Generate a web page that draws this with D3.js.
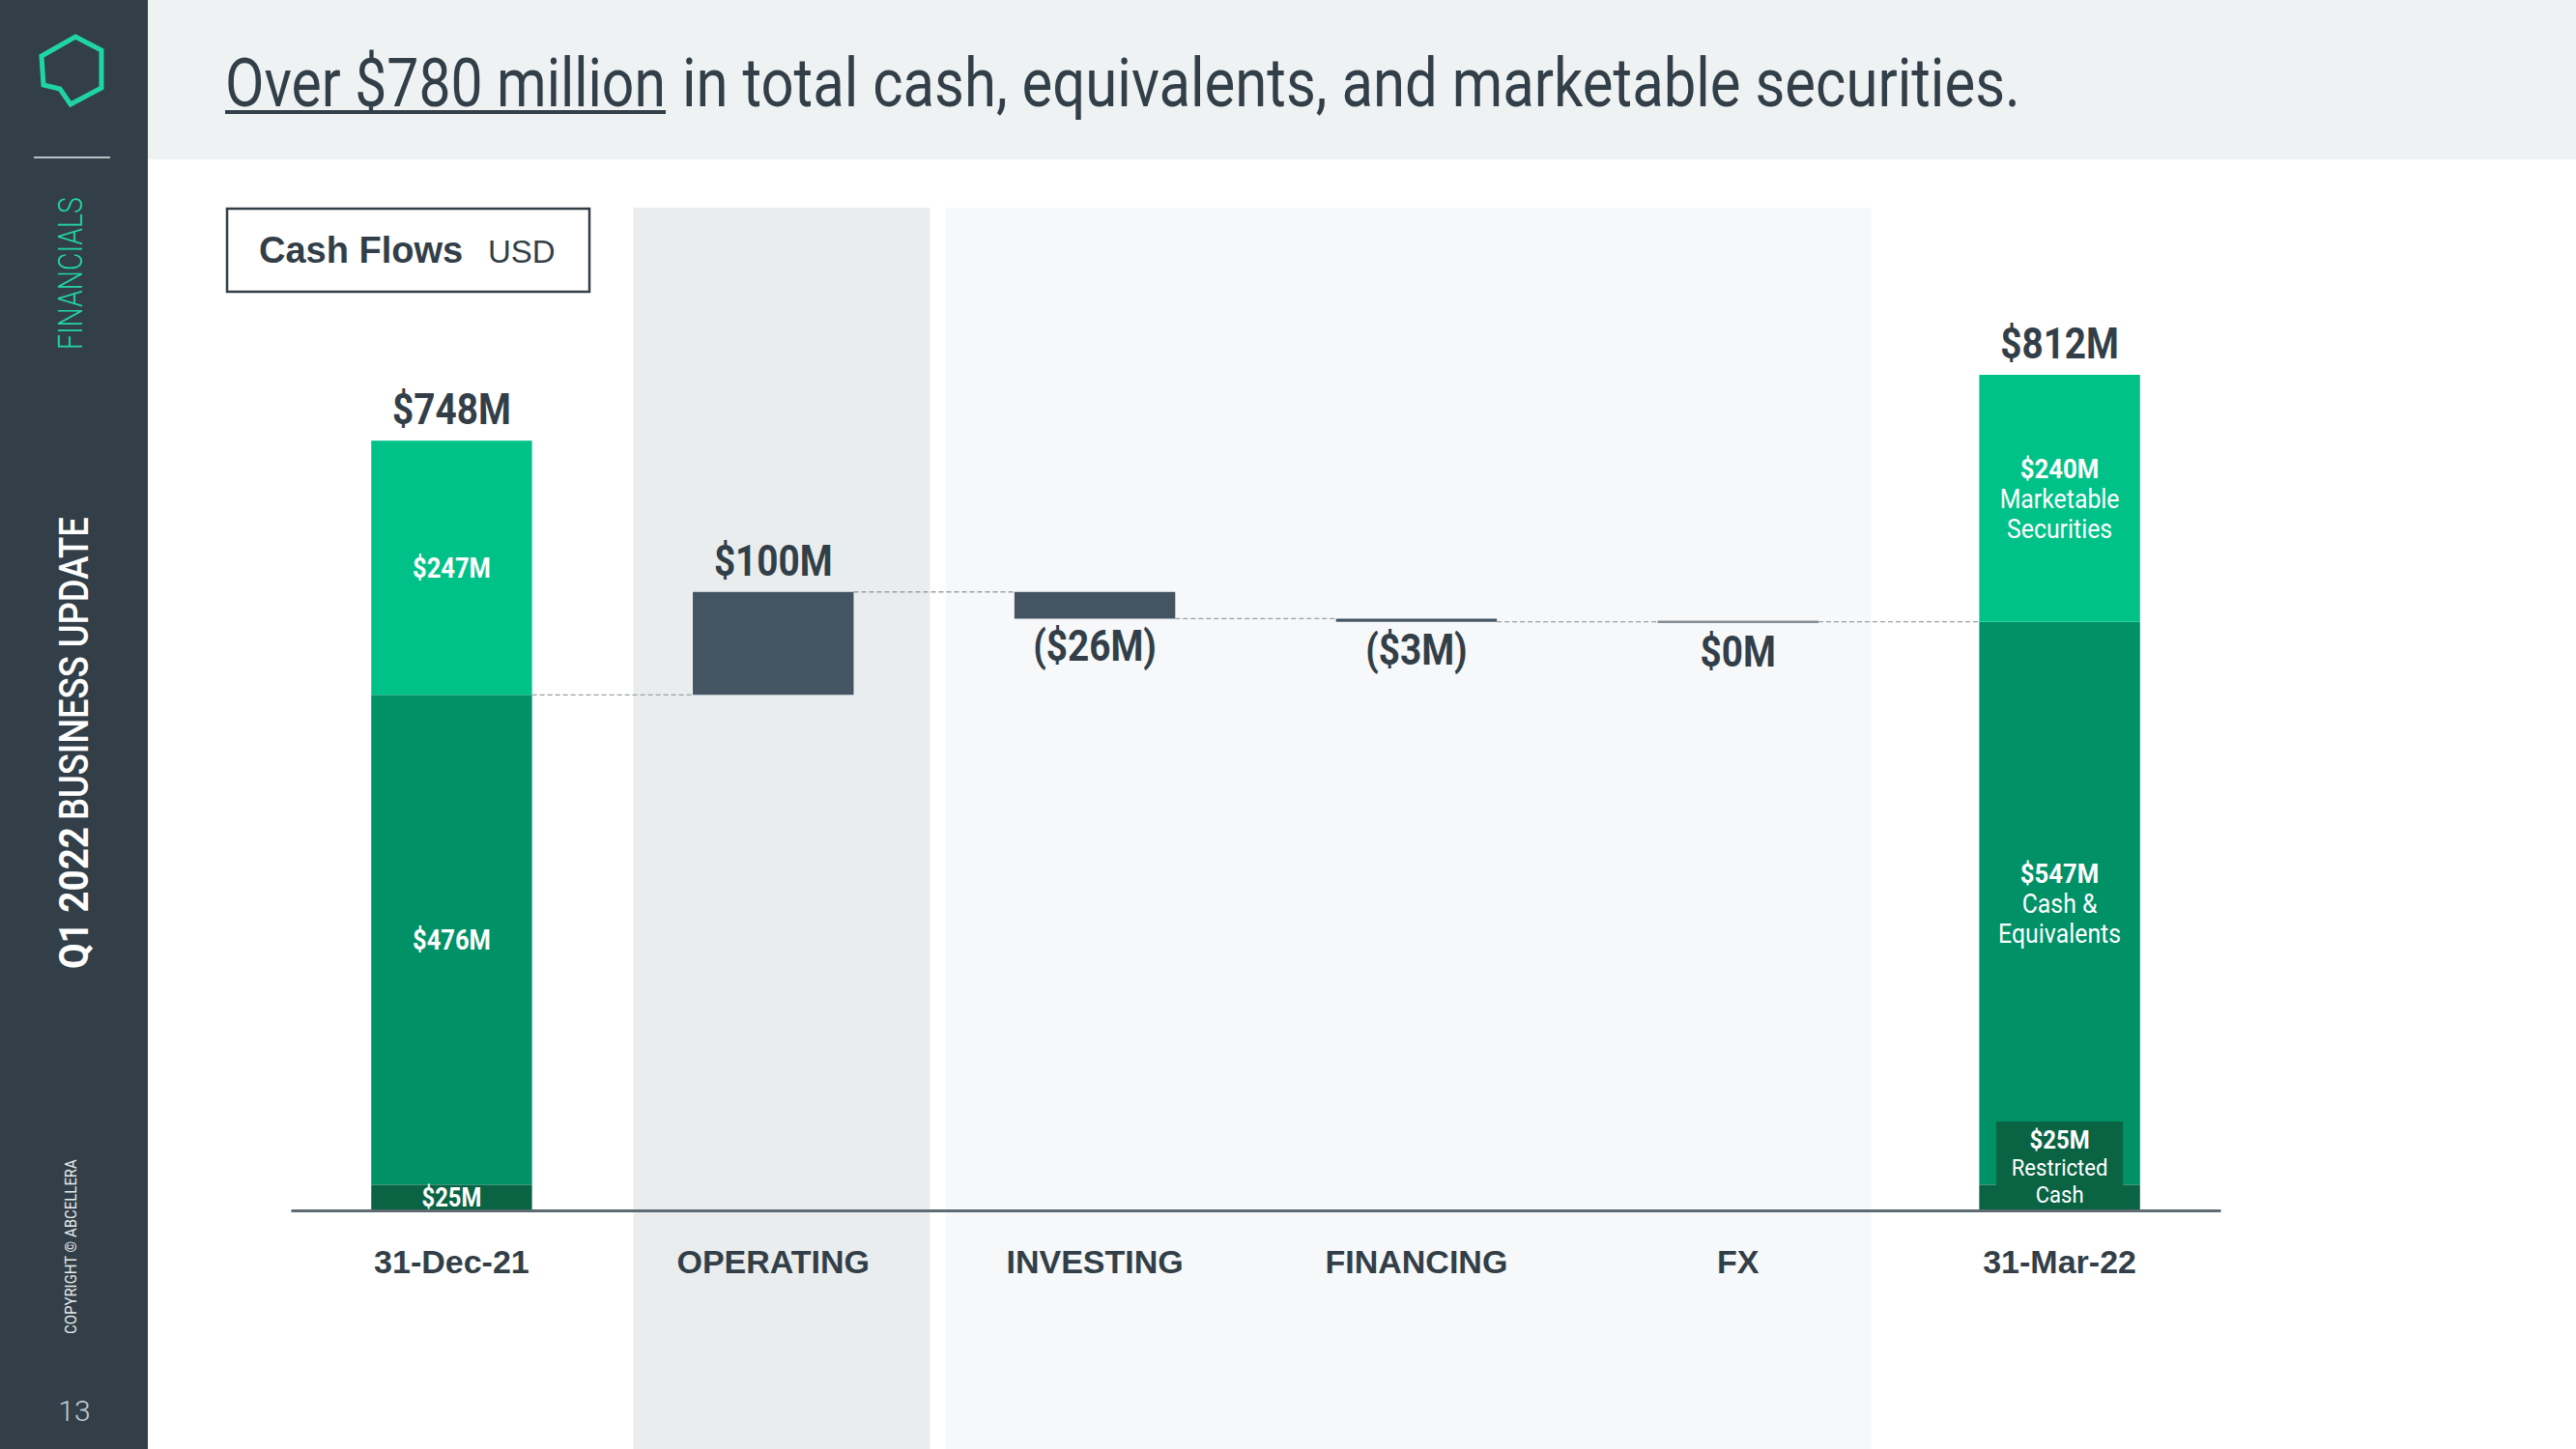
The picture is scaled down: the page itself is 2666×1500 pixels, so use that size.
<!DOCTYPE html>
<html>
<head>
<meta charset="utf-8">
<script src="https://cdn.jsdelivr.net/npm/d3@7"></script>
<style>
html,body{margin:0;padding:0;background:#fff;}
svg{display:block;}
</style>
</head>
<body>
<script>
// ---------- DATA ----------
const categories = ["31-Dec-21", "OPERATING", "INVESTING", "FINANCING", "FX", "31-Mar-22"];
const flowCategories = ["OPERATING", "INVESTING", "FINANCING", "FX"];
const flowValues = [100, -26, -3, 0];
const segmentNames = ["Restricted Cash", "Cash & Equivalents", "Marketable Securities"];
const openingSegments = [25, 476, 247];   // 31-Dec-21
const closingSegments = [25, 547, 240];   // 31-Mar-22
const closingSegmentLines = [["Restricted", "Cash"], ["Cash &", "Equivalents"], ["Marketable", "Securities"]];
const titleUnderlined = "Over $780 million";
const titleRest = "in total cash, equivalents, and marketable securities.";

// ---------- SETUP ----------
const W = 2666, H = 1500;
const dark = "#333f48";
const segColors = ["#0a6343", "#009167", "#00c288"];
const flowColor = "#445463";

const svg = d3.select("body").append("svg").attr("width", W).attr("height", H);

// sidebar + header
svg.append("rect").attr("x", 0).attr("y", 0).attr("width", 153).attr("height", H).attr("fill", "#323f48");
svg.append("rect").attr("x", 153).attr("y", 0).attr("width", W - 153).attr("height", 165).attr("fill", "#eef2f3");

// logo
svg.append("path")
  .attr("d", "M78,38 L105,52 L105,91 L73,108 L62,92 L45,88 L43,58 Z")
  .attr("fill", "none").attr("stroke", "#1fd6a2").attr("stroke-width", 5).attr("stroke-linejoin", "miter");
svg.append("line").attr("x1", 35).attr("x2", 114).attr("y1", 163).attr("y2", 163)
  .attr("stroke", "#e8eced").attr("stroke-width", 1.5);

// text fitted to a given length by horizontal scaling (keeps bbox honest)
function fitText(txt, px, py, len, size, weight, color, rot, family) {
  const t = svg.append("text")
    .attr("font-family", family || "Roboto")
    .attr("font-size", size).attr("font-weight", weight).attr("fill", color)
    .text(txt);
  const natural = t.node().getComputedTextLength();
  const sx = len / natural;
  t.attr("transform", `translate(${px},${py}) ${rot ? "rotate(-90)" : ""} scale(${sx},1)`);
  return t;
}
fitText("FINANCIALS", 85, 362, 158, 35, 300, "#22d3a0", true);
fitText("Q1 2022", 91, 1003, 147, 42, 700, "#ffffff", true);
fitText("BUSINESS UPDATE", 91, 849, 314, 42, 500, "#ffffff", true);
fitText("COPYRIGHT © ABCELLERA", 79, 1381, 181, 16, 400, "#e6eaec", true);
svg.append("text").attr("x", 77).attr("y", 1471).attr("text-anchor", "middle")
  .attr("font-family", "Roboto").attr("font-weight", 300).attr("font-size", 30)
  .attr("fill", "#c8ced2").text("13");

// title
fitText(titleUnderlined, 233, 110, 456, 70, 400, dark, false);
svg.append("rect").attr("x", 233).attr("y", 114).attr("width", 456).attr("height", 4).attr("fill", dark);
fitText(titleRest, 706, 110, 1385, 70, 400, dark, false);

// ---------- SCALES ----------
const x = d3.scaleBand().domain(categories).range([301, 2298]).paddingInner(0.5).paddingOuter(0.25);
const bw = x.bandwidth(), step = x.step();
const openTotal = d3.sum(openingSegments);
const closeTotal = d3.sum(closingSegments);
const y = d3.scaleLinear().domain([0, closeTotal]).range([1253, 388]);

// background panels
const cx = c => x(c) + bw / 2;
svg.append("rect").attr("x", cx("OPERATING") - 0.435 * step).attr("y", 215)
  .attr("width", 0.922 * step).attr("height", H - 215).attr("fill", "#e9edee");
svg.append("rect").attr("x", cx("INVESTING") - 0.463 * step).attr("y", 215)
  .attr("width", (cx("FX") + 0.414 * step) - (cx("INVESTING") - 0.463 * step)).attr("height", H - 215).attr("fill", "#f6f8f9");

// Cash Flows box
svg.append("rect").attr("x", 235).attr("y", 216).attr("width", 375).attr("height", 86)
  .attr("fill", "#fff").attr("stroke", dark).attr("stroke-width", 2.5);
svg.append("text").attr("x", 268).attr("y", 272).attr("font-family", "Liberation Sans")
  .attr("font-weight", 700).attr("font-size", 38).attr("fill", dark).text("Cash Flows");
svg.append("text").attr("x", 505).attr("y", 272).attr("font-family", "Liberation Sans")
  .attr("font-weight", 400).attr("font-size", 33).attr("fill", dark).text("USD");

const chart = svg.append("g");

function label(txt, px, py, size, weight, color, sx) {
  chart.append("text")
    .attr("transform", `translate(${px},${py}) scale(${sx || 0.9},1)`)
    .attr("text-anchor", "middle").attr("font-family", "Roboto")
    .attr("font-size", size).attr("font-weight", weight).attr("fill", color)
    .text(txt);
}
const fmt = v => v < 0 ? `($${Math.abs(v)}M)` : `$${v}M`;

// stacked endpoint bars
function stacked(cat, segs) {
  let base = 0;
  const out = [];
  segs.forEach((v, i) => {
    chart.append("rect").attr("x", x(cat)).attr("width", bw)
      .attr("y", y(base + v)).attr("height", y(base) - y(base + v)).attr("fill", segColors[i]);
    out.push({ lo: base, hi: base + v, v });
    base += v;
  });
  return out;
}
const openSegs = stacked("31-Dec-21", openingSegments);
const closeSegs = stacked("31-Mar-22", closingSegments);

// opening labels
label(fmt(openTotal), cx("31-Dec-21"), y(openTotal) - 17, 44, 700, dark, 0.88);
openSegs.forEach((s, i) => {
  const mid = (y(s.lo) + y(s.hi)) / 2;
  const size = i === 0 ? 27 : 29;
  label(fmt(s.v), cx("31-Dec-21"), mid + size * 0.36, size, 700, "#ffffff", 0.88);
});

// closing labels
label(fmt(closeTotal), cx("31-Mar-22"), y(closeTotal) - 17, 44, 700, dark, 0.88);
const rbTop = 1161;
chart.append("rect").attr("x", cx("31-Mar-22") - 65.5).attr("width", 131)
  .attr("y", rbTop).attr("height", y(0) - rbTop).attr("fill", segColors[0]);
closeSegs.forEach((s, i) => {
  let mid = (y(s.lo) + y(s.hi)) / 2;
  let gap = 31, size1 = 28, size2 = 27;
  if (i === 0) { mid = (rbTop + y(0)) / 2 + 1; gap = 28; size1 = 26; size2 = 24; }
  const lines = [fmt(s.v)].concat(closingSegmentLines[i]);
  lines.forEach((t, j) => {
    const cy = mid + (j - 1) * gap;
    const sz = j === 0 ? size1 : size2;
    label(t, cx("31-Mar-22"), cy + sz * 0.36, sz, j === 0 ? 700 : 400, "#ffffff", 0.92);
  });
});

// flow bars
let running = openingSegments[0] + openingSegments[1];
const levels = [running];
flowCategories.forEach((c, i) => {
  const v = flowValues[i];
  const from = running, to = running + v;
  const top = y(Math.max(from, to)), bot = y(Math.min(from, to));
  if (v === 0) {
    chart.append("line").attr("x1", x(c)).attr("x2", x(c) + bw).attr("y1", top).attr("y2", top)
      .attr("stroke", "#858e95").attr("stroke-width", 2.5);
  } else {
    chart.append("rect").attr("x", x(c)).attr("width", bw).attr("y", top)
      .attr("height", Math.max(bot - top, 2.5)).attr("fill", flowColor);
  }
  if (v > 0) label(fmt(v), cx(c), top - 17, 44, 700, dark, 0.88);
  else label(fmt(v), cx(c), Math.max(bot, top + 2.5) + 44, 44, 700, dark, 0.88);
  running = to;
  levels.push(running);
});

// dashed connectors
const seq = ["31-Dec-21"].concat(flowCategories).concat(["31-Mar-22"]);
for (let i = 0; i < seq.length - 1; i++) {
  const yy = y(levels[i]);
  chart.append("line")
    .attr("x1", x(seq[i]) + bw).attr("x2", x(seq[i + 1]))
    .attr("y1", yy).attr("y2", yy)
    .attr("stroke", "#9aa1a6").attr("stroke-width", 1.3).attr("stroke-dasharray", "5,3");
}

// axis
const axisG = svg.append("g").attr("transform", `translate(0,${y(0)})`)
  .call(d3.axisBottom(x).tickSize(0).tickPadding(0));
axisG.select(".domain").attr("stroke", "#5e6a72").attr("stroke-width", 3);
axisG.selectAll(".tick text")
  .attr("y", 65).attr("dy", 0)
  .attr("font-family", "Liberation Sans").attr("font-weight", 700)
  .attr("font-size", 34).attr("fill", dark);
</script>
</body>
</html>
